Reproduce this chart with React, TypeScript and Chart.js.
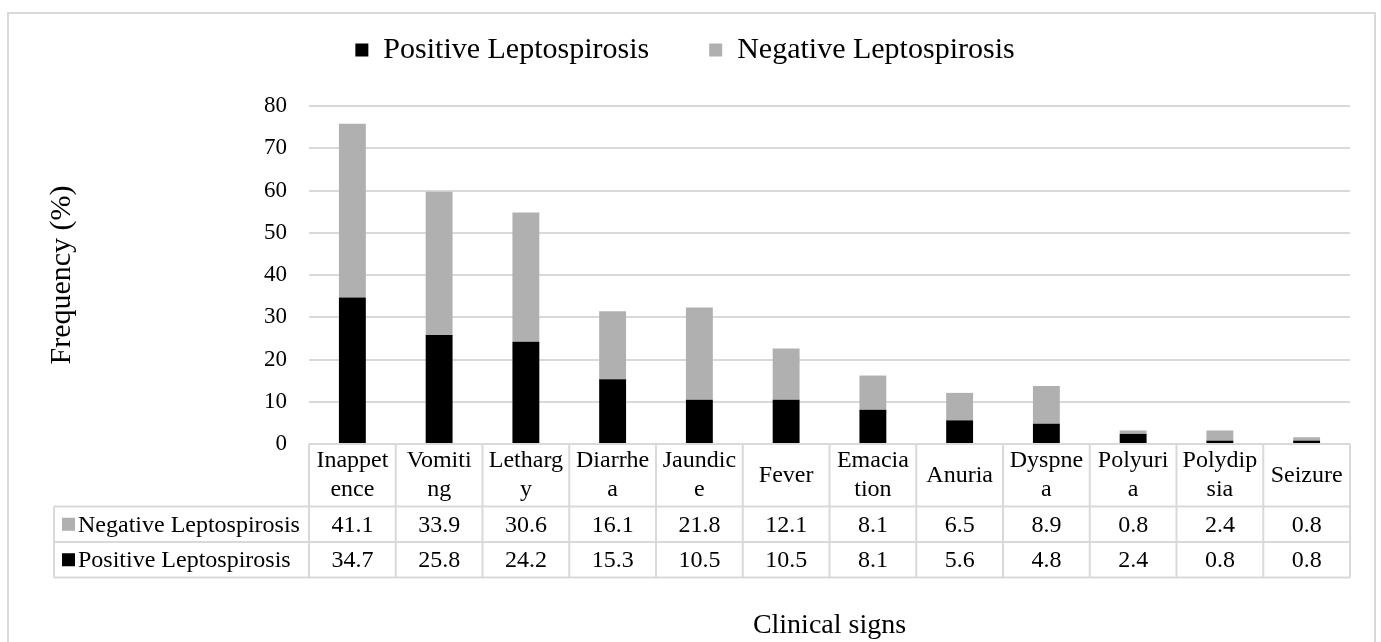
import React, { useEffect, useRef } from "react";
import { Chart, registerables } from "chart.js";

Chart.register(...registerables);

const categories = [
  "Inappetence", "Vomiting", "Lethargy", "Diarrhea", "Jaundice", "Fever",
  "Emaciation", "Anuria", "Dyspnea", "Polyuria", "Polydipsia", "Seizure",
];
const categoryTableLabels = [
  ["Inappet", "ence"], ["Vomiti", "ng"], ["Letharg", "y"], ["Diarrhe", "a"],
  ["Jaundic", "e"], ["Fever"], ["Emacia", "tion"], ["Anuria"],
  ["Dyspne", "a"], ["Polyuri", "a"], ["Polydip", "sia"], ["Seizure"],
];
const positiveValues = [34.7, 25.8, 24.2, 15.3, 10.5, 10.5, 8.1, 5.6, 4.8, 2.4, 0.8, 0.8];
const negativeValues = [41.1, 33.9, 30.6, 16.1, 21.8, 12.1, 8.1, 6.5, 8.9, 0.8, 2.4, 0.8];
const seriesNames = ["Positive Leptospirosis", "Negative Leptospirosis"];
const yMin = 0;
const yMax = 80;
const yStep = 10;
const xTitle = "Clinical signs";
const yTitle = "Frequency (%)";

const FONT = "'Liberation Serif', 'Times New Roman', serif";
const POS_COLOR = "#000000";
const NEG_COLOR = "#b0b0b0";
const LINE_COLOR = "#d9d9d9";

const legendSpacer = {
  id: "legendSpacer",
  beforeLayout(chart: any) {
    const legend = chart.legend;
    if (legend && !legend.__patched) {
      const orig = legend.fit;
      legend.fit = function () {
        orig.call(this);
        this.height += 31;
      };
      legend.__patched = true;
    }
  },
};

const borderPlugin = {
  id: "outerBorder",
  beforeDraw(chart: any) {
    const ctx = chart.ctx;
    ctx.save();
    ctx.fillStyle = "#ffffff";
    ctx.fillRect(0, 0, chart.width, chart.height);
    ctx.strokeStyle = LINE_COLOR;
    ctx.lineWidth = 2;
    ctx.strokeRect(8, 13, 1367, 700);
    ctx.restore();
  },
};

const tablePlugin = {
  id: "dataTable",
  afterDraw(chart: any) {
    const { ctx, chartArea } = chart;
    const xScale = chart.scales.x;
    const n = categories.length;
    const colW = (chartArea.right - chartArea.left) / n;
    const top = chartArea.bottom;
    const headerBottom = top + 62.5;
    const row1Bottom = headerBottom + 35.5;
    const row2Bottom = row1Bottom + 35.5;
    const tableLeft = 54;
    const right = chartArea.right;

    ctx.save();
    ctx.strokeStyle = LINE_COLOR;
    ctx.lineWidth = 2;
    ctx.beginPath();
    ctx.moveTo(chartArea.left, top);
    ctx.lineTo(right, top);
    [headerBottom, row1Bottom, row2Bottom].forEach((y) => {
      ctx.moveTo(tableLeft, y);
      ctx.lineTo(right, y);
    });
    for (let i = 0; i <= n; i++) {
      const x = chartArea.left + i * colW;
      ctx.moveTo(x, top);
      ctx.lineTo(x, row2Bottom);
    }
    ctx.moveTo(tableLeft, headerBottom);
    ctx.lineTo(tableLeft, row2Bottom);
    ctx.stroke();

    ctx.fillStyle = "#000";
    ctx.font = `24px ${FONT}`;
    ctx.textAlign = "center";
    ctx.textBaseline = "middle";
    const headerMid = (top + headerBottom) / 2;
    categoryTableLabels.forEach((lines, i) => {
      const cx = xScale.getPixelForValue(i);
      if (lines.length === 1) {
        ctx.fillText(lines[0], cx, headerMid);
      } else {
        ctx.fillText(lines[0], cx, headerMid - 14.5);
        ctx.fillText(lines[1], cx, headerMid + 14.5);
      }
    });

    const rows = [
      { name: seriesNames[1], color: NEG_COLOR, values: negativeValues, y: (headerBottom + row1Bottom) / 2 },
      { name: seriesNames[0], color: POS_COLOR, values: positiveValues, y: (row1Bottom + row2Bottom) / 2 },
    ];
    rows.forEach((r) => {
      ctx.fillStyle = r.color;
      ctx.fillRect(62, r.y - 6.5, 13, 13);
      ctx.fillStyle = "#000";
      ctx.textAlign = "left";
      ctx.fillText(r.name, 78, r.y + 1);
      ctx.textAlign = "center";
      r.values.forEach((v, i) => {
        ctx.fillText(v.toFixed(1), xScale.getPixelForValue(i), r.y + 1);
      });
    });
    ctx.restore();
  },
};

export default function App() {
  const canvasRef = useRef<HTMLCanvasElement | null>(null);

  useEffect(() => {
    const canvas = canvasRef.current;
    if (!canvas) return;
    const chart = new Chart(canvas, {
      type: "bar",
      data: {
        labels: categories,
        datasets: [
          {
            label: seriesNames[0],
            data: positiveValues,
            backgroundColor: POS_COLOR,
            borderWidth: 0,
            barPercentage: 0.31,
            categoryPercentage: 1,
          },
          {
            label: seriesNames[1],
            data: negativeValues,
            backgroundColor: NEG_COLOR,
            borderWidth: 0,
            barPercentage: 0.31,
            categoryPercentage: 1,
          },
        ],
      },
      options: {
        responsive: false,
        animation: false,
        devicePixelRatio: 1,
        layout: { padding: { top: -25, left: 20, right: 31, bottom: 0 } },
        plugins: {
          legend: {
            display: true,
            position: "top",
            align: "center",
            labels: {
              boxWidth: 13,
              boxHeight: 13,
              padding: 60,
              color: "#000",
              font: { family: FONT, size: 30 },
            },
          },
          tooltip: { enabled: false },
        },
        scales: {
          x: {
            stacked: true,
            ticks: { display: false },
            grid: { display: false },
            border: { display: false },
            title: {
              display: true,
              text: xTitle,
              color: "#000",
              font: { family: FONT, size: 28 },
              padding: { top: 0, bottom: 0 },
            },
            afterFit: (s: any) => {
              s.height = 198;
            },
          },
          y: {
            stacked: true,
            min: yMin,
            max: yMax,
            ticks: {
              stepSize: yStep,
              color: "#000",
              font: { family: FONT, size: 23 },
              padding: 22,
            },
            grid: { color: LINE_COLOR, lineWidth: 2, drawTicks: false },
            border: { display: false },
            title: {
              display: true,
              text: yTitle,
              color: "#000",
              font: { family: FONT, size: 30 },
              padding: { top: 24, bottom: 0 },
            },
            afterFit: (s: any) => {
              s.width = 289;
            },
          },
        },
      } as any,
      plugins: [legendSpacer, borderPlugin, tablePlugin],
    });
    return () => chart.destroy();
  }, []);

  return (
    <div style={{ position: "fixed", left: 0, top: 0, width: 1381, height: 642, background: "#fff" }}>
      <canvas ref={canvasRef} width={1381} height={642} style={{ display: "block" }} />
    </div>
  );
}
